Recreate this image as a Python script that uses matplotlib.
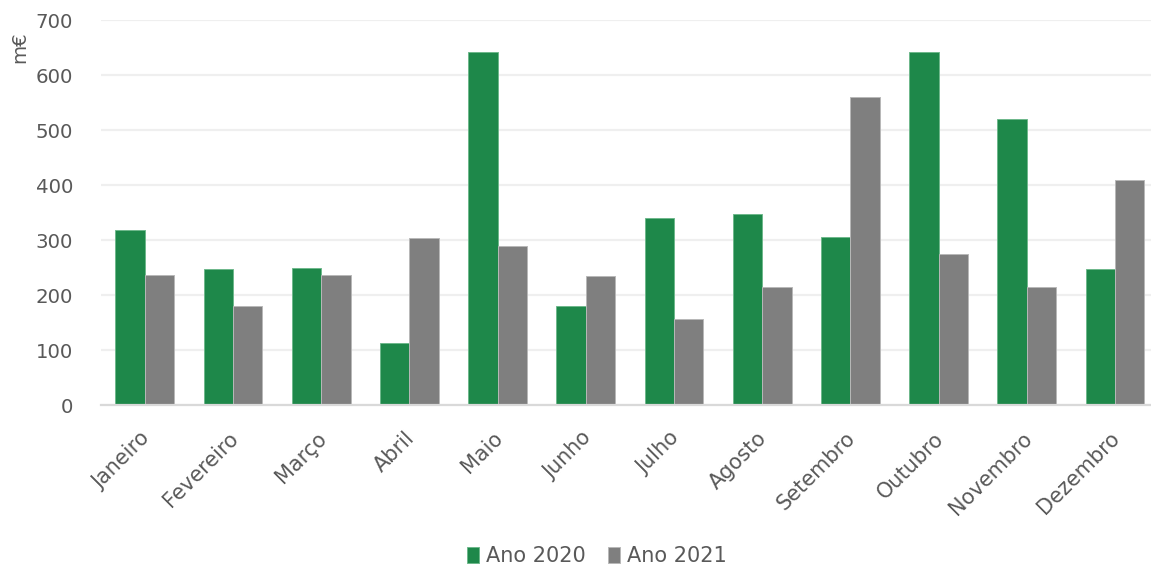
import matplotlib
matplotlib.use("Agg")
import matplotlib.pyplot as plt
import matplotlib.transforms as mtransforms
import numpy as np

months = ["Janeiro", "Fevereiro", "Março", "Abril", "Maio", "Junho",
          "Julho", "Agosto", "Setembro", "Outubro", "Novembro", "Dezembro"]
ano_2020 = [319, 248, 249, 113, 641, 180, 340, 347, 306, 641, 521, 248]
ano_2021 = [237, 180, 237, 304, 290, 234, 157, 215, 561, 274, 215, 410]
y_ticks = [0, 100, 200, 300, 400, 500, 600, 700]

GREEN = "#1e884a"
GREY = "#7f7f7f"
TEXT = "#595959"

plt.rcParams["font.family"] = ["DejaVu Sans"]

W, H = 1151, 567
fig = plt.figure(figsize=(W / 100, H / 100), dpi=100)
# plot area spans x 100.7..1159 px, y 20..405.3 px (from top)
ax = fig.add_axes([100.7 / W, 1 - 405.3 / H, (1159 - 100.7) / W, (405.3 - 20) / H])

x = np.arange(len(months))
w = 0.333
ax.bar(x - w / 2, ano_2020, width=w, color=GREEN, edgecolor="#6fb88c",
       linewidth=0.7, label="Ano 2020", zorder=3)
ax.bar(x + w / 2, ano_2021, width=w, color=GREY, edgecolor="#b8b8b8",
       linewidth=0.7, label="Ano 2021", zorder=3)

ax.set_xlim(-0.5, len(months) - 0.5)
ax.set_ylim(0, 700)
ax.set_yticks(y_ticks)
ax.set_yticklabels([str(v) for v in y_ticks], fontsize=14.2, color=TEXT)
ax.set_xticks(x)
ax.set_xticklabels([])
ax.tick_params(axis="both", length=0)
ax.tick_params(axis="y", pad=20)

# month names: rotated 45°, ending at each category just below the axis
offset = mtransforms.ScaledTranslation(2 / 100, -30 / 100, fig.dpi_scale_trans)
for xi, name in zip(x, months):
    ax.text(xi, 0, name, transform=ax.get_xaxis_transform() + offset,
            rotation=45, rotation_mode="anchor", ha="right", va="center",
            fontsize=15, color=TEXT)

ax.grid(axis="y", color="#efefef", linewidth=1.6, zorder=0)
ax.set_axisbelow(True)
for side in ["top", "right", "left"]:
    ax.spines[side].set_visible(False)
ax.spines["bottom"].set_color("#d9d9d9")
ax.spines["bottom"].set_linewidth(1.6)
ax.spines["bottom"].set_zorder(4)

fig.text(20 / W, 1 - 47 / H, "m€", rotation=90, ha="center", va="center",
         fontsize=14.2, color=TEXT)

fig.legend(loc="center", bbox_to_anchor=(597 / W, 1 - 556 / H), ncol=2,
           frameon=False, fontsize=15, labelcolor=TEXT,
           handlelength=0.55, handleheight=0.8, handletextpad=0.35,
           columnspacing=1.1, borderpad=0)

fig.savefig("out.png", dpi=100, facecolor="white")
